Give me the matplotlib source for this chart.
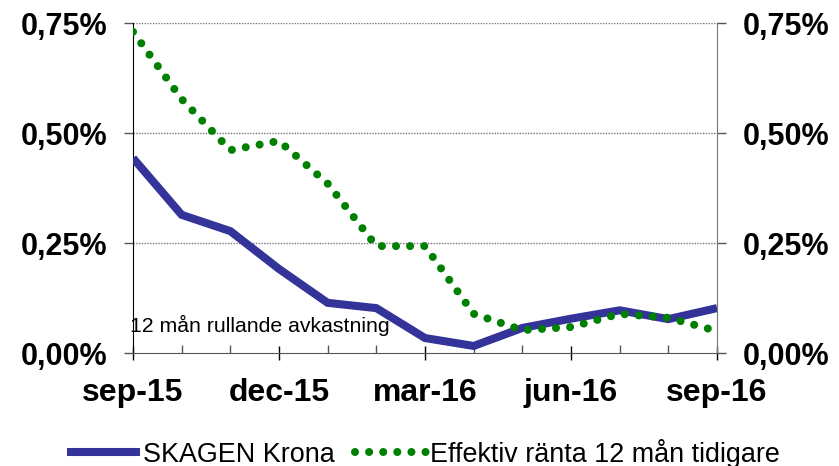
import numpy as np
import matplotlib
matplotlib.use('Agg')
import matplotlib.pyplot as plt
from matplotlib.ticker import FuncFormatter, MultipleLocator

months = ['sep-15', 'okt-15', 'nov-15', 'dec-15', 'jan-16', 'feb-16', 'mar-16',
          'apr-16', 'maj-16', 'jun-16', 'jul-16', 'aug-16', 'sep-16']
skagen_krona = [0.443, 0.314, 0.277, 0.191, 0.114, 0.102, 0.034,
                0.016, 0.057, 0.078, 0.097, 0.077, 0.102]
effektiv_ranta = [0.730, 0.577, 0.461, 0.482, 0.385, 0.243, 0.243,
                  0.089, 0.052, 0.059, 0.089, 0.080, 0.050]
xtick_labels = ['sep-15', 'dec-15', 'mar-16', 'jun-16', 'sep-16']

plt.rcParams['font.family'] = ['Liberation Sans', 'DejaVu Sans']

fig = plt.figure(figsize=(8.39, 4.66), dpi=100)
ax = fig.add_axes([133/839, 1-353/466, (717-133)/839, (353-23)/466])

x = np.arange(len(months))
ax.plot(x, skagen_krona, color='#333399', lw=5.8, solid_joinstyle='miter',
        solid_capstyle='butt', label='SKAGEN Krona', zorder=3)
ax.plot(x, effektiv_ranta, color='#008000', lw=5.8, linestyle=(0, (0.001, 1.75)),
        dash_capstyle='round', label='Effektiv ränta 12 mån tidigare', zorder=4)

ax.set_xlim(0, 12)
ax.set_ylim(0, 0.75)
ax.yaxis.set_major_locator(MultipleLocator(0.25))
ax.yaxis.set_major_formatter(FuncFormatter(lambda v, p: ('%.2f%%' % v).replace('.', ',')))
ax.set_xticks([0, 3, 6, 9, 12])
ax.set_xticklabels(xtick_labels, fontsize=23, fontweight='bold')
ax.set_xticks(x, minor=True)

for v in [0.25, 0.5, 0.75]:
    ax.axhline(v, color='#777777', lw=1.0, linestyle=(0, (1, 1)), zorder=1)

ax.spines['top'].set_visible(False)
ax.spines['left'].set_color('black')
ax.spines['right'].set_color('#777777')
ax.spines['bottom'].set_color('#555555')

ax.tick_params(axis='x', which='major', direction='inout', length=10, width=1,
               pad=13, color='black')
ax.tick_params(axis='x', which='minor', direction='in', length=6, width=1, color='#555555')
ax.tick_params(axis='y', which='major', direction='out', length=6.5, width=1,
               right=True, labelright=True, pad=12, labelsize=22, color='#555555')
for t in ax.yaxis.get_major_ticks():
    t.label1.set_fontweight('bold')
    t.label2.set_fontweight('bold')

ax.text(-0.06, 0.048, '12 mån rullande avkastning', fontsize=15.3, va='baseline',
        ha='left', zorder=5)

fig.legend(loc='center', bbox_to_anchor=(0.505, 1-453/466), ncol=2, frameon=False,
           fontsize=19.4, handlelength=2.7, handletextpad=0.1, columnspacing=0.75)

fig.savefig('out.png', dpi=100)
